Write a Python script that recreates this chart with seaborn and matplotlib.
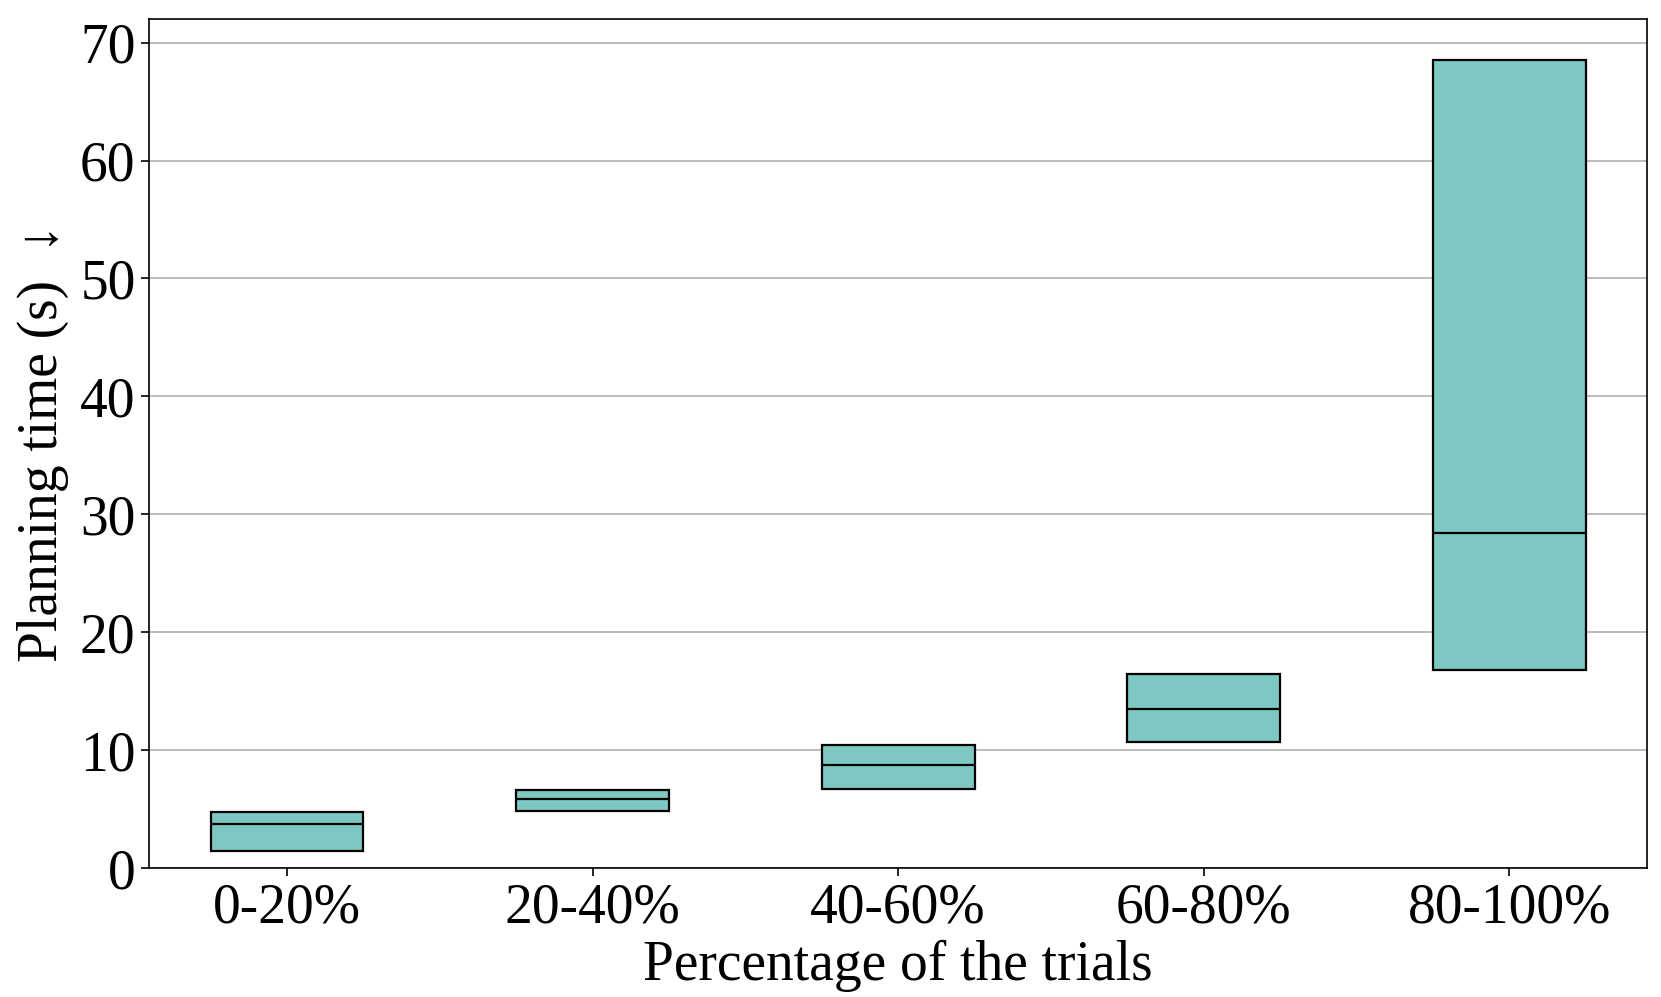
import pandas as pd
import matplotlib
matplotlib.use('Agg')
import matplotlib.pyplot as plt
import seaborn as sns

# quartiles
groups = ['0-20%', '20-40%', '40-60%', '60-80%', '80-100%']
q1 = [1.45, 4.86, 6.75, 10.7, 16.85]
median = [3.8, 5.85, 8.8, 13.5, 28.45]
q3 = [4.8, 6.65, 10.45, 16.45, 68.5]

# build samples whose quartiles equal the values above
rows = []
for g, a, m, b in zip(groups, q1, median, q3):
    for v in [a, a, m, b, b]:
        rows.append({'group': g, 'time': v})
df = pd.DataFrame(rows)

sns.set_style('white')
plt.rcParams['font.family'] = ['Liberation Serif', 'DejaVu Serif', 'DejaVu Sans']
plt.rcParams['text.color'] = 'black'
plt.rcParams['axes.labelcolor'] = 'black'

fig, ax = plt.subplots(figsize=(16.61, 9.97), dpi=100)
fig.subplots_adjust(left=0.09, right=0.9915, top=0.981, bottom=0.129)

sns.boxplot(data=df, x='group', y='time', order=groups, ax=ax,
            color='#7DC8C3', saturation=1, width=0.5, whis=0,
            showcaps=False, showfliers=False,
            boxprops=dict(edgecolor='black', linewidth=1.6),
            medianprops=dict(color='black', linewidth=1.6),
            whiskerprops=dict(linewidth=0))

ax.set_xlim(-0.45, 4.45)
ax.set_ylim(0, 72)
ax.set_yticks(range(0, 71, 10))
ax.yaxis.grid(True, color='#b0b0b0', linewidth=1.2)
ax.set_axisbelow(True)
for s in ax.spines.values():
    s.set_visible(True)
    s.set_color('black')
    s.set_linewidth(1.2)
ax.tick_params(axis='both', labelsize=40, direction='out', length=6, width=1.2,
               bottom=True, left=True, colors='black', pad=4)
ax.set_xlabel('Percentage of the trials', fontsize=40, labelpad=4)
ax.set_ylabel('Planning time (s)  ↓', fontsize=40, labelpad=8)

fig.savefig('out.png', dpi=100)
